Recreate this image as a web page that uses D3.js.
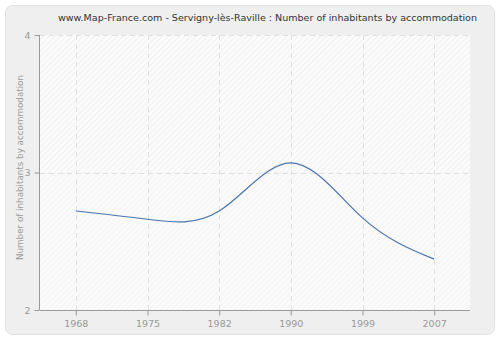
<!DOCTYPE html>
<html>
<head>
<meta charset="utf-8">
<script src="https://cdn.jsdelivr.net/npm/d3@7"></script>
<style>
  html, body { margin: 0; padding: 0; background: #ffffff; }
  svg { display: block; }
  text { font-family: "DejaVu Sans", Verdana, sans-serif; }
</style>
</head>
<body>
<svg id="chart" width="500" height="340"></svg>
<script>
// Average number of inhabitants per dwelling, by census year
const years = ["1968", "1975", "1982", "1990", "1999", "2007"];
const values = [2.72, 2.66, 2.72, 3.07, 2.67, 2.37];
const yTicks = [2, 3, 4];

const title = "www.Map-France.com - Servigny-lès-Raville : Number of inhabitants by accommodation";
const yTitle = "Number of inhabitants by accommodation";

const plot = { left: 40, right: 470, top: 35, bottom: 310 };

const svg = d3.select("#chart");

// hatch patterns for the plot background
const defs = svg.append("defs");
function hatch(id, bg, line) {
  const p = defs.append("pattern")
    .attr("id", id)
    .attr("patternUnits", "userSpaceOnUse")
    .attr("width", 4).attr("height", 4)
    .attr("patternTransform", "rotate(45)");
  p.append("rect").attr("width", 4).attr("height", 4).attr("fill", bg);
  p.append("line").attr("x1", 0).attr("y1", 0).attr("x2", 0).attr("y2", 4)
    .attr("stroke", line).attr("stroke-width", 1.2);
}
hatch("hatchTop", "#fbfbfb", "#eaeaea");
hatch("hatchBottom", "#fafafa", "#f1f1f1");

// outer panel
svg.append("rect")
  .attr("x", 5.5).attr("y", 5.5)
  .attr("width", 489).attr("height", 329)
  .attr("rx", 7).attr("ry", 7)
  .attr("fill", "#efefef")
  .attr("stroke", "#e2e2e2");

const x = d3.scalePoint().domain(years).range([plot.left, plot.right]).padding(0.5);
const y = d3.scaleLinear().domain([2, 4]).range([plot.bottom, plot.top]);

// plot background: two bands split at the middle gridline
svg.append("rect")
  .attr("x", plot.left).attr("y", y(4))
  .attr("width", plot.right - plot.left).attr("height", y(3) - y(4))
  .attr("fill", "url(#hatchTop)");
svg.append("rect")
  .attr("x", plot.left).attr("y", y(3))
  .attr("width", plot.right - plot.left).attr("height", y(2) - y(3))
  .attr("fill", "url(#hatchBottom)");

// gridlines
const grid = svg.append("g")
  .attr("stroke", "#e0e0e0")
  .attr("stroke-dasharray", "5,4")
  .attr("stroke-width", 1);
grid.selectAll("line.v").data(years).join("line")
  .attr("class", "v")
  .attr("x1", d => Math.round(x(d)) + 0.5).attr("x2", d => Math.round(x(d)) + 0.5)
  .attr("y1", plot.top).attr("y2", plot.bottom);
grid.selectAll("line.h").data(yTicks.filter(t => t > 2)).join("line")
  .attr("class", "h")
  .attr("x1", plot.left).attr("x2", plot.right)
  .attr("y1", d => Math.round(y(d)) + 0.5).attr("y2", d => Math.round(y(d)) + 0.5);

// axes
const xAxis = svg.append("g")
  .attr("transform", `translate(0,${plot.bottom + 0.5})`)
  .call(d3.axisBottom(x).tickSize(5).tickSizeOuter(0));
const yAxis = svg.append("g")
  .attr("transform", `translate(${plot.left - 0.5},0)`)
  .call(d3.axisLeft(y).tickValues(yTicks).tickFormat(d3.format("d")).tickSize(5).tickSizeOuter(0));

[xAxis, yAxis].forEach(a => {
  a.select(".domain").attr("stroke", "#999999");
  a.selectAll(".tick line").attr("stroke", "#999999");
  a.selectAll(".tick text")
    .attr("fill", "#999999")
    .style("font-size", "9.5px")
    .style("font-family", "'DejaVu Sans', Verdana, sans-serif");
});
xAxis.select(".domain").attr("d", `M${plot.left},0H${plot.right}`);
yAxis.select(".domain").attr("d", `M0,${plot.bottom}V${plot.top}`);
xAxis.selectAll(".tick text").attr("dy", "0.95em").attr("y", 7);
yAxis.selectAll(".tick text").attr("x", -9);

// series line
const line = d3.line()
  .x((d, i) => x(years[i]))
  .y(d => y(d))
  .curve(d3.curveNatural);

svg.append("path")
  .datum(values)
  .attr("fill", "none")
  .attr("stroke", "#4a74aa")
  .attr("stroke-width", 1.2)
  .attr("d", line);

// titles
svg.append("text")
  .attr("x", 58).attr("y", 21)
  .attr("fill", "#333333")
  .attr("textLength", 419)
  .attr("lengthAdjust", "spacingAndGlyphs")
  .style("font-size", "9.5px")
  .text(title);

svg.append("text")
  .attr("transform", `translate(23,167.5) rotate(-90)`)
  .attr("text-anchor", "middle")
  .attr("fill", "#999999")
  .attr("textLength", 185)
  .attr("lengthAdjust", "spacingAndGlyphs")
  .style("font-size", "9.5px")
  .text(yTitle);
</script>
</body>
</html>
